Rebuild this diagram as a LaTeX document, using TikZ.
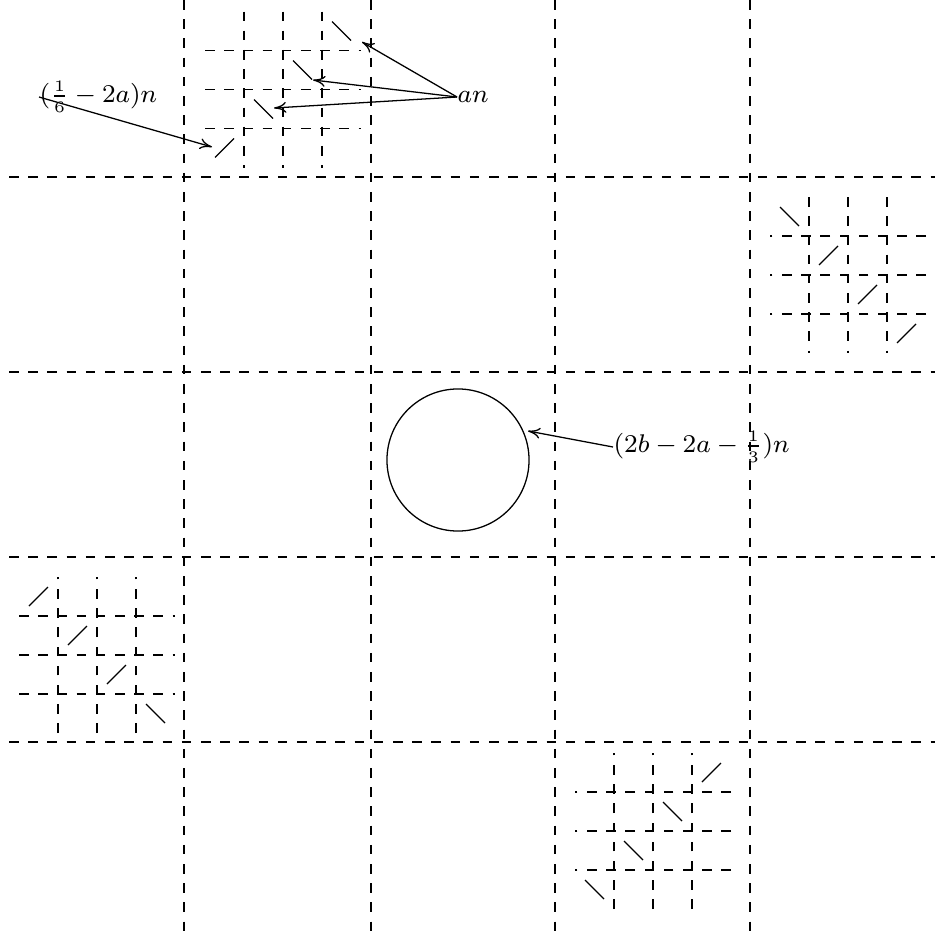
\documentclass[tikz,border=0pt]{standalone}
\usepackage{amsmath,amssymb}
\usepackage{tikz}
\usetikzlibrary{arrows.meta}

\begin{document}
\begin{tikzpicture}[x=0.3125pt, y=-0.3125pt, font=\fontsize{7.7}{9}\selectfont,
  cut/.style={dashed},
  lbl/.style={anchor=west, inner sep=0pt},
  ptr/.style={-{To[length=3.8pt, width=3.4pt]}}]
\useasboundingbox (0,0) rectangle (935,938);
% big dashed grid
\foreach \gx in {184,371,555,750}
  \draw[cut] (\gx,0) -- (\gx,938);
\foreach \gy in {177,372,557,742}
  \draw[cut] (9,\gy) -- (935,\gy);
% small grids: the same motif, turned four ways
\foreach \cx/\cy/\rot in {97/655/0, 848/275/180, 283/89.5/-90, 653/831/90} {
  \begin{scope}[shift={(\cx,\cy)}, rotate=\rot]
    \foreach \s in {-39,0,39} {
      \draw[cut] (-78,\s) -- (78,\s);
      \draw[cut] (\s,78) -- (\s,-78);
    }
    \draw (-68,-49) -- (-49,-68);
    \draw (-29,-10) -- (-10,-29);
    \draw (10,29) -- (29,10);
    \draw (49,49) -- (68,68);
  \end{scope}
}
% disc in the middle
\node[circle, draw, minimum size=44.4pt, inner sep=0pt] (disc) at (458,460) {};
% labels
\node[lbl] (an) at (457,97) {$an$};
\node[lbl] (small) at (39,97) {$(\frac{1}{6}-2a)n$};
\node[lbl] (big) at (613,447) {$(2b-2a-\frac{1}{3})n$};
% arrow ends
\coordinate (d1) at (362,42);
\coordinate (d2) at (313,80);
\coordinate (d3) at (274,108);
\coordinate (d4) at (212,147);
\coordinate (rim) at (528,431);
\draw[ptr] (an.west) -- (d1);
\draw[ptr] (an.west) -- (d2);
\draw[ptr] (an.west) -- (d3);
\draw[ptr] (small.west) -- (d4);
\draw[ptr] (big.west) -- (rim);
\end{tikzpicture}
\end{document}
